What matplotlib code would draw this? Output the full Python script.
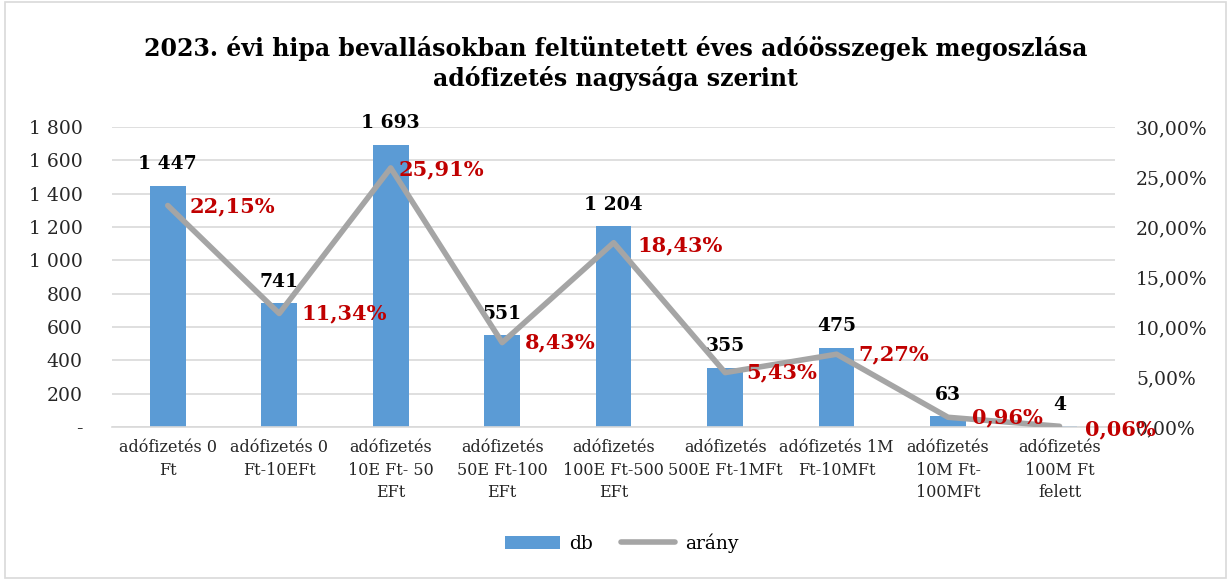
import matplotlib.pyplot as plt
from matplotlib.patches import Rectangle
from matplotlib.ticker import FuncFormatter
import numpy as np

# data
categories = ['adófizetés 0\nFt', 'adófizetés 0\nFt-10EFt', 'adófizetés\n10E Ft- 50\nEFt',
              'adófizetés\n50E Ft-100\nEFt', 'adófizetés\n100E Ft-500\nEFt',
              'adófizetés\n500E Ft-1MFt', 'adófizetés 1M\nFt-10MFt',
              'adófizetés\n10M Ft-\n100MFt', 'adófizetés\n100M Ft\nfelett']
db = [1447, 741, 1693, 551, 1204, 355, 475, 63, 4]
arany = [22.15, 11.34, 25.91, 8.43, 18.43, 5.43, 7.27, 0.96, 0.06]

title = '2023. évi hipa bevallásokban feltüntetett éves adóösszegek megoszlása\nadófizetés nagysága szerint'

plt.rcParams['font.family'] = ['DejaVu Serif']

bar_col = '#5B9BD5'
line_col = '#A5A5A5'
red = '#C00000'
txt = '#262626'

fig = plt.figure(figsize=(12.31, 5.8), dpi=100)
fig.patches.append(Rectangle((0.004, 0.003), 0.992, 0.994, transform=fig.transFigure,
                             fill=False, edgecolor='#D9D9D9', lw=1.2))

ax = fig.add_axes([0.091, 0.264, 0.815, 0.517])
ax2 = ax.twinx()

x = np.arange(len(categories))
ax.bar(x, db, width=0.32, color=bar_col, zorder=2, label='db')
ax.set_xlim(-0.5, len(categories) - 0.5)
ax.set_ylim(0, 1800)
ax.set_yticks(np.arange(0, 1801, 200))
ax.yaxis.set_major_formatter(FuncFormatter(
    lambda v, p: '-' if v == 0 else f'{int(v):,}'.replace(',', ' ')))
ax.grid(axis='y', color='#D9D9D9', lw=1.2, zorder=0)
ax.set_axisbelow(True)
ax.set_xticks(x)
ax.set_xticklabels(categories, fontsize=11.5, color=txt, linespacing=1.4)
ax.tick_params(axis='both', length=0, colors=txt)
ax.tick_params(axis='y', labelsize=13.5, pad=21)
ax.tick_params(axis='x', pad=9)
for s in ['top', 'left', 'right']:
    ax.spines[s].set_visible(False)
ax.spines['bottom'].set_color('#D9D9D9')
ax.spines['bottom'].set_linewidth(1.2)

for xi, v in zip(x, db):
    ax.annotate(f'{v:,}'.replace(',', ' '), (xi, v), xytext=(0, 9), textcoords='offset points',
                ha='center', va='bottom', fontsize=13.5, fontweight='bold', color='black')

ax2.plot(x, arany, color=line_col, lw=4, solid_capstyle='round', label='arány', zorder=3)
ax2.set_ylim(0, 30)
ax2.set_yticks(np.arange(0, 31, 5))
ax2.yaxis.set_major_formatter(FuncFormatter(lambda v, p: f'{v:.2f}%'.replace('.', ',')))
ax2.tick_params(axis='y', length=0, labelsize=13.5, colors=txt, pad=15)
for s in ['top', 'left', 'right', 'bottom']:
    ax2.spines[s].set_visible(False)

label_dx = [16, 16, 6, 16, 17, 15, 16, 17, 18]
label_dy = [-1, 0, -1, 0, -2, 0, 0, 0, -2]
for xi, v, dx, dy in zip(x, arany, label_dx, label_dy):
    ax2.annotate(f'{v:.2f}%'.replace('.', ','), (xi, v), xytext=(dx, dy),
                 textcoords='offset points', ha='left', va='center', fontsize=15,
                 fontweight='bold', color=red, zorder=5, annotation_clip=False)

fig.text(0.5, 0.89, title, ha='center', va='center', fontsize=17, fontweight='bold',
         color='black', linespacing=1.25)

h1, l1 = ax.get_legend_handles_labels()
h2, l2 = ax2.get_legend_handles_labels()
fig.legend(h1 + h2, l1 + l2, loc='center', bbox_to_anchor=(0.505, 0.064), ncol=2,
           frameon=False, fontsize=13.5, handlelength=2.9, columnspacing=1.5, handletextpad=0.5)

fig.savefig('out.png', dpi=100)
